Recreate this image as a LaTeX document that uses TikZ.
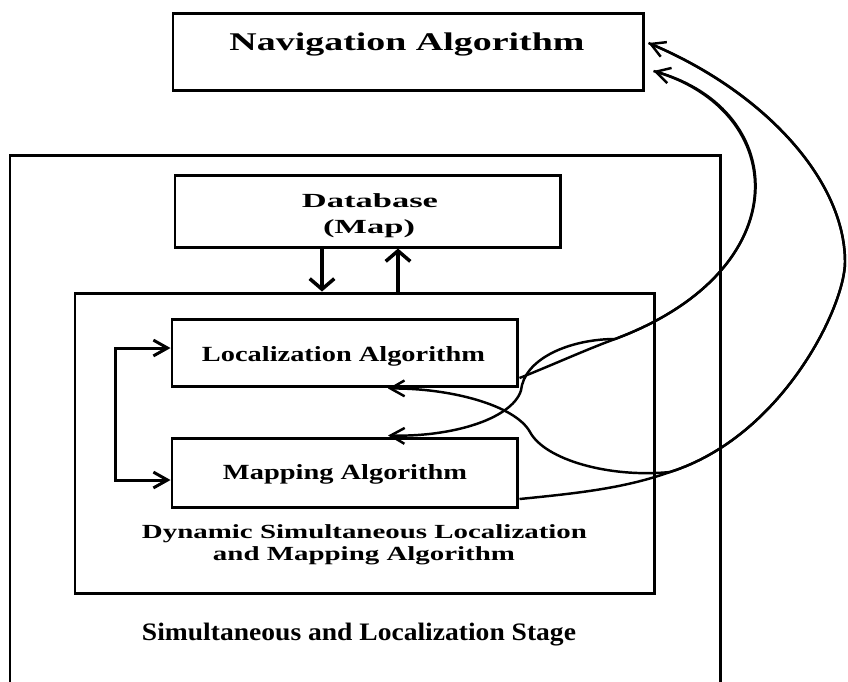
\documentclass[tikz,border=0pt]{standalone}
\usepackage{fontspec}
\setmainfont{Liberation Serif}
\usepackage{graphicx}
\usetikzlibrary{arrows.meta}
% one drawing unit = one pixel of the layout grid
\newlength\pxu
\setlength\pxu{0.02cm}
% bold text of a given size, stretched horizontally to a given width
\newcommand\widetext[3]{\fontsize{#1}{#1}\selectfont\resizebox{#2\pxu}{\height}{\bfseries #3}}
\begin{document}
\begin{tikzpicture}[x=0.02cm,y=-0.02cm,
  box/.style={draw,line width=1.7pt,inner sep=0pt},
  lbl/.style={anchor=base,inner sep=0pt},
  link/.style={line width=1.4pt},
  loopline/.style={line width=1.7pt},
  dbarrow/.style={line width=2pt,-{Straight Barb[length=6pt,width=14pt]}},
  >={Straight Barb[length=8pt,width=9pt]}]
\useasboundingbox (0,0) rectangle (848,681);
\clip (0,0) rectangle (848,681);

% boxes
\node[box,minimum width=470\pxu,minimum height=77\pxu] (nav) at (408,51.5) {};
\node[box,minimum width=710\pxu,minimum height=545\pxu] (stage) at (365,427.5) {};
\node[box,minimum width=385\pxu,minimum height=72\pxu] (db) at (367.5,211) {};
\node[box,minimum width=579\pxu,minimum height=300\pxu] (slam) at (364.5,443) {};
\node[box,minimum width=345\pxu,minimum height=67\pxu] (loc) at (344.5,352.5) {};
\node[box,minimum width=345\pxu,minimum height=69\pxu] (map) at (344.5,472.5) {};

% labels
\node[lbl] (navtext) at (407,50) {\widetext{14.5}{355}{Navigation Algorithm}};
\node[lbl] (dbtext) at (370,207) {\widetext{11.4}{136}{Database}};
\node[lbl] (maptext) at (369,233) {\widetext{11.4}{92}{(Map)}};
\node[lbl] (loctext) at (343.5,361) {\widetext{12.3}{283}{Localization Algorithm}};
\node[lbl] (mapalg) at (345,479) {\widetext{12.3}{244}{Mapping Algorithm}};
\node[lbl] (slamone) at (364.5,538) {\widetext{11.4}{445}{Dynamic Simultaneous Localization}};
\node[lbl] (slamtwo) at (364,560) {\widetext{11.4}{302}{and Mapping Algorithm}};
\node[lbl] (stagetext) at (359,640) {\widetext{14.3}{434}{Simultaneous and Localization Stage}};

% database <-> algorithm block
\draw[dbarrow] (db.south -| 322,0) -- (slam.north -| 322,0);
\draw[dbarrow] (slam.north -| 398,0) -- (db.south -| 398,0);

% feedback between localization and mapping
\draw[loopline,<->] ([shift={(0,-4.5)}]loc.west) -- ++(-55,0) |- ([shift={(0,7.5)}]map.west);

% junction points of the curved links
\coordinate (j1) at (615,339);
\coordinate (j2) at (670,472);
\coordinate (peak) at (845,262);

% localization -> navigation
\draw[link,->] ([shift={(1,25.5)}]loc.east) .. controls (550,366) and (585,350) .. (j1)
  .. controls (800,270) and (790,110) .. ([shift={(9,19.5)}]nav.east);
% navigation -> mapping
\draw[link,<-] ([shift={(43.5,-1)}]map.north) .. controls (460,437) and (520,415) .. (522,385)
  .. controls (530,355) and (575,339) .. (j1)
  .. controls (800,270) and (790,110) .. ([shift={(9,19.5)}]nav.east);
% mapping -> navigation
\draw[link,->] ([shift={(1,26.5)}]map.east) .. controls (580,493) and (625,488) .. (j2)
  .. controls (783,436) and (845,306) .. (peak)
  .. controls (845,180) and (764,91.5) .. ([shift={(4,-8.5)}]nav.east);
% navigation -> localization
\draw[link,<-] ([shift={(43.5,1)}]loc.south) .. controls (450,388) and (515,405) .. (530,432)
  .. controls (545,460) and (610,478) .. (j2)
  .. controls (783,436) and (845,306) .. (peak)
  .. controls (845,180) and (764,91.5) .. ([shift={(4,-8.5)}]nav.east);
\end{tikzpicture}
\end{document}
